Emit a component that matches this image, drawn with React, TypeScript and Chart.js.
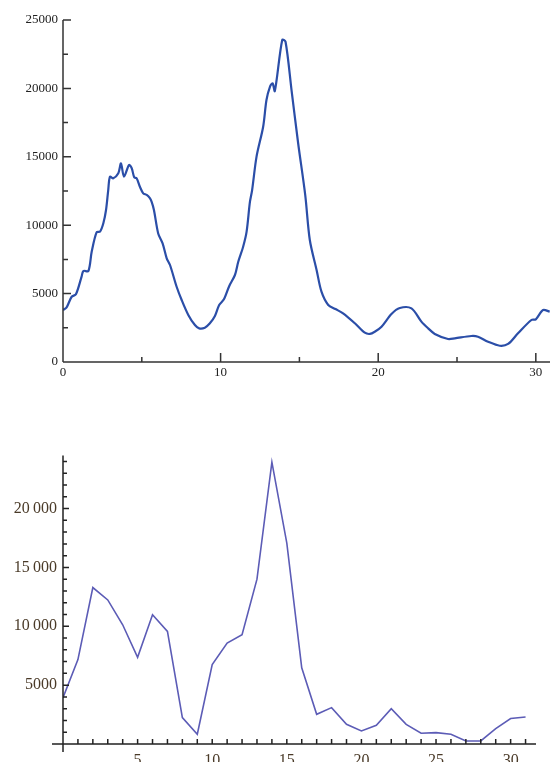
import React, { useEffect, useRef } from "react";
import { Chart, registerables } from "chart.js";

Chart.register(...registerables);

// ---------- Top chart data ----------
const topX = [
  0, 0.23, 0.55, 0.82, 1.18, 1.29, 1.61, 1.82, 2.13, 2.35, 2.56, 2.73, 2.87, 2.98,
  3.19, 3.51, 3.68, 3.87, 4.19, 4.36, 4.52, 4.67, 4.88, 5.09, 5.31, 5.5, 5.62, 5.77,
  6.04, 6.32, 6.58, 6.79, 7.21, 7.53, 7.95, 8.37, 8.64, 9.0, 9.32, 9.64, 9.91, 10.21,
  10.55, 10.91, 11.12, 11.43, 11.65, 11.86, 12.0, 12.28, 12.7, 12.91, 13.13, 13.3,
  13.44, 13.91, 14.12, 14.5, 14.92, 15.37, 15.66, 16.09, 16.4, 16.83, 17.29, 17.77,
  18.52, 19.15, 19.47, 19.78, 20.21, 20.84, 21.37, 22.11, 22.74, 23.17, 23.59, 24.43,
  24.86, 25.91, 26.33, 26.97, 27.71, 28.24, 28.87, 29.72, 30.0, 30.46, 30.88,
];
const topY = [
  3800, 4000, 4770, 4950, 6240, 6650, 6650, 8060, 9480, 9530, 10140, 11110, 12570, 13550,
  13430, 13790, 14520, 13550, 14400, 14160, 13500, 13430, 12810, 12330, 12210, 12000, 11720, 11110,
  9400, 8670, 7580, 7090, 5500, 4530, 3440, 2700, 2460, 2510, 2830, 3360, 4170, 4580,
  5560, 6360, 7330, 8430, 9530, 11700, 12570, 15010, 17200, 19150, 20120, 20370,
  19800, 23540, 23410, 19880, 15990, 12200, 8920, 6730, 5140, 4170, 3870, 3560,
  2830, 2140, 2050, 2210, 2580, 3510, 3950, 3920, 2950, 2460, 2050, 1680,
  1730, 1900, 1850, 1480, 1190, 1320, 2100, 3070, 3120, 3800, 3680,
];
const topYTicks = [0, 5000, 10000, 15000, 20000, 25000];
const topYMinorTicks = [2500, 7500, 12500, 17500, 22500];
const topXTicks = [0, 10, 20, 30];
const topXMinorTicks = [5, 15, 25];

// ---------- Bottom chart data ----------
const bottomX = [
  0, 1, 2, 3, 4, 5, 6, 7, 8, 9, 10, 11, 12, 13, 14, 15,
  16, 17, 18, 19, 20, 21, 22, 23, 24, 25, 26, 27, 28, 29, 30, 31,
];
const bottomY = [
  3930, 7170, 13290, 12240, 10130, 7370, 10980, 9570, 2240, 830, 6750, 8580, 9280, 14000, 23940, 17060,
  6470, 2520, 3090, 1670, 1110, 1590, 3000, 1670, 910, 970, 830, 260, 260, 1310, 2160, 2290,
];
const bottomYTicks = [5000, 10000, 15000, 20000];
const bottomYMinorTicks = [
  1000, 2000, 3000, 4000, 6000, 7000, 8000, 9000, 11000, 12000, 13000, 14000,
  16000, 17000, 18000, 19000, 21000, 22000, 23000, 24000,
];
const bottomXTicks = [5, 10, 15, 20, 25, 30];
const bottomXMinorTicks = [
  1, 2, 3, 4, 6, 7, 8, 9, 11, 12, 13, 14, 16, 17, 18, 19, 21, 22, 23, 24, 26, 27, 28, 29, 31,
];

type AxisCfg = {
  color: string;
  width: number;
  xExtendLeft: number;
  yExtendBelow: number;
  yMajor: number[];
  yMinor: number[];
  xMajor: number[];
  xMinor: number[];
  yMajorLen: number;
  yMinorLen: number;
  xMajorLen: number;
  xMinorLen: number;
};

function axisPlugin(cfg: AxisCfg) {
  return {
    id: "axisDeco",
    afterDatasetsDraw(chart: any) {
      const { ctx, chartArea: a, scales } = chart;
      const xs = scales.x;
      const ys = scales.y;
      ctx.save();
      ctx.strokeStyle = cfg.color;
      ctx.lineWidth = cfg.width;
      ctx.beginPath();
      ctx.moveTo(a.left, a.top);
      ctx.lineTo(a.left, a.bottom + cfg.yExtendBelow);
      ctx.moveTo(a.left - cfg.xExtendLeft, a.bottom);
      ctx.lineTo(a.right, a.bottom);
      cfg.yMajor.forEach((v) => {
        const p = ys.getPixelForValue(v);
        ctx.moveTo(a.left, p);
        ctx.lineTo(a.left + cfg.yMajorLen, p);
      });
      cfg.yMinor.forEach((v) => {
        const p = ys.getPixelForValue(v);
        ctx.moveTo(a.left, p);
        ctx.lineTo(a.left + cfg.yMinorLen, p);
      });
      cfg.xMajor.forEach((v) => {
        const p = xs.getPixelForValue(v);
        ctx.moveTo(p, a.bottom);
        ctx.lineTo(p, a.bottom - cfg.xMajorLen);
      });
      cfg.xMinor.forEach((v) => {
        const p = xs.getPixelForValue(v);
        ctx.moveTo(p, a.bottom);
        ctx.lineTo(p, a.bottom - cfg.xMinorLen);
      });
      ctx.stroke();
      ctx.restore();
    },
  };
}

function TopChart() {
  const ref = useRef<HTMLCanvasElement>(null);
  useEffect(() => {
    if (!ref.current) return;
    const font = { family: "'Liberation Serif', 'Times New Roman', serif", size: 13 };
    const chart = new Chart(ref.current, {
      type: "line",
      data: {
        datasets: [
          {
            data: topX.map((x, i) => ({ x, y: topY[i] })),
            borderColor: "#2b4ea8",
            borderWidth: 2.2,
            pointRadius: 0,
            tension: 0.3,
            fill: false,
          },
        ],
      },
      options: {
        responsive: false,
        animation: false,
        layout: { padding: { top: 20, left: 0, right: 0, bottom: 0 } },
        plugins: { legend: { display: false }, tooltip: { enabled: false } },
        scales: {
          x: {
            type: "linear",
            min: 0,
            max: 30.9,
            grid: { display: false, drawTicks: false },
            border: { display: false },
            ticks: {
              font,
              color: "#222",
              padding: 3,
              maxRotation: 0,
              autoSkip: false,
              callback: (v: any) => String(v),
            },
            afterBuildTicks: (s: any) => {
              s.ticks = topXTicks.map((v) => ({ value: v }));
            },
            afterFit: (s: any) => {
              s.height = 28;
            },
          },
          y: {
            type: "linear",
            min: 0,
            max: 25000,
            grid: { display: false, drawTicks: false },
            border: { display: false },
            ticks: {
              font,
              color: "#222",
              padding: 5,
              autoSkip: false,
              callback: (v: any) => String(v),
            },
            afterBuildTicks: (s: any) => {
              s.ticks = topYTicks.map((v) => ({ value: v }));
            },
            afterFit: (s: any) => {
              s.width = 63;
            },
          },
        },
      },
      plugins: [
        axisPlugin({
          color: "#333",
          width: 1.5,
          xExtendLeft: 0,
          yExtendBelow: 0,
          yMajor: topYTicks,
          yMinor: topYMinorTicks,
          xMajor: topXTicks,
          xMinor: topXMinorTicks,
          yMajorLen: 8,
          yMinorLen: 5,
          xMajorLen: 9,
          xMinorLen: 5,
        }),
      ],
    } as any);
    return () => chart.destroy();
  }, []);
  return (
    <canvas
      ref={ref}
      width={550}
      height={390}
      style={{ position: "absolute", left: 0, top: 0, width: 550, height: 390, display: "block" }}
    />
  );
}

function BottomChart() {
  const ref = useRef<HTMLCanvasElement>(null);
  useEffect(() => {
    if (!ref.current) return;
    const font = { family: "'Liberation Serif', 'Times New Roman', serif", size: 16 };
    const chart = new Chart(ref.current, {
      type: "line",
      data: {
        datasets: [
          {
            data: bottomX.map((x, i) => ({ x, y: bottomY[i] })),
            borderColor: "#5c5cb6",
            borderWidth: 1.6,
            pointRadius: 0,
            tension: 0,
            fill: false,
          },
        ],
      },
      options: {
        responsive: false,
        animation: false,
        layout: { padding: { top: 14, left: 0, right: 14, bottom: 0 } },
        plugins: { legend: { display: false }, tooltip: { enabled: false } },
        scales: {
          x: {
            type: "linear",
            min: 0,
            max: 31.7,
            grid: { display: false, drawTicks: false },
            border: { display: false },
            ticks: {
              font,
              color: "#4a3a28",
              padding: 7,
              maxRotation: 0,
              autoSkip: false,
              callback: (v: any) => String(v),
            },
            afterBuildTicks: (s: any) => {
              s.ticks = bottomXTicks.map((v) => ({ value: v }));
            },
            afterFit: (s: any) => {
              s.height = 18;
            },
          },
          y: {
            type: "linear",
            min: 0,
            max: 24500,
            grid: { display: false, drawTicks: false },
            border: { display: false },
            ticks: {
              font,
              color: "#4a3a28",
              padding: 6,
              autoSkip: false,
              callback: (v: any) =>
                v >= 10000 ? `${Math.floor(v / 1000)}\u2009000` : String(v),
            },
            afterBuildTicks: (s: any) => {
              s.ticks = bottomYTicks.map((v) => ({ value: v }));
            },
            afterFit: (s: any) => {
              s.width = 63;
            },
          },
        },
      },
      plugins: [
        axisPlugin({
          color: "#222",
          width: 1.5,
          xExtendLeft: 11,
          yExtendBelow: 8,
          yMajor: bottomYTicks,
          yMinor: bottomYMinorTicks,
          xMajor: bottomXTicks,
          xMinor: bottomXMinorTicks,
          yMajorLen: 6,
          yMinorLen: 4,
          xMajorLen: 5,
          xMinorLen: 5,
        }),
      ],
    } as any);
    return () => chart.destroy();
  }, []);
  return (
    <canvas
      ref={ref}
      width={550}
      height={322}
      style={{ position: "absolute", left: 0, top: 440, width: 550, height: 322, display: "block" }}
    />
  );
}

export default function App() {
  return (
    <div
      style={{
        position: "absolute",
        left: 0,
        top: 0,
        width: 550,
        height: 762,
        background: "#fff",
        overflow: "hidden",
      }}
    >
      <TopChart />
      <BottomChart />
    </div>
  );
}
